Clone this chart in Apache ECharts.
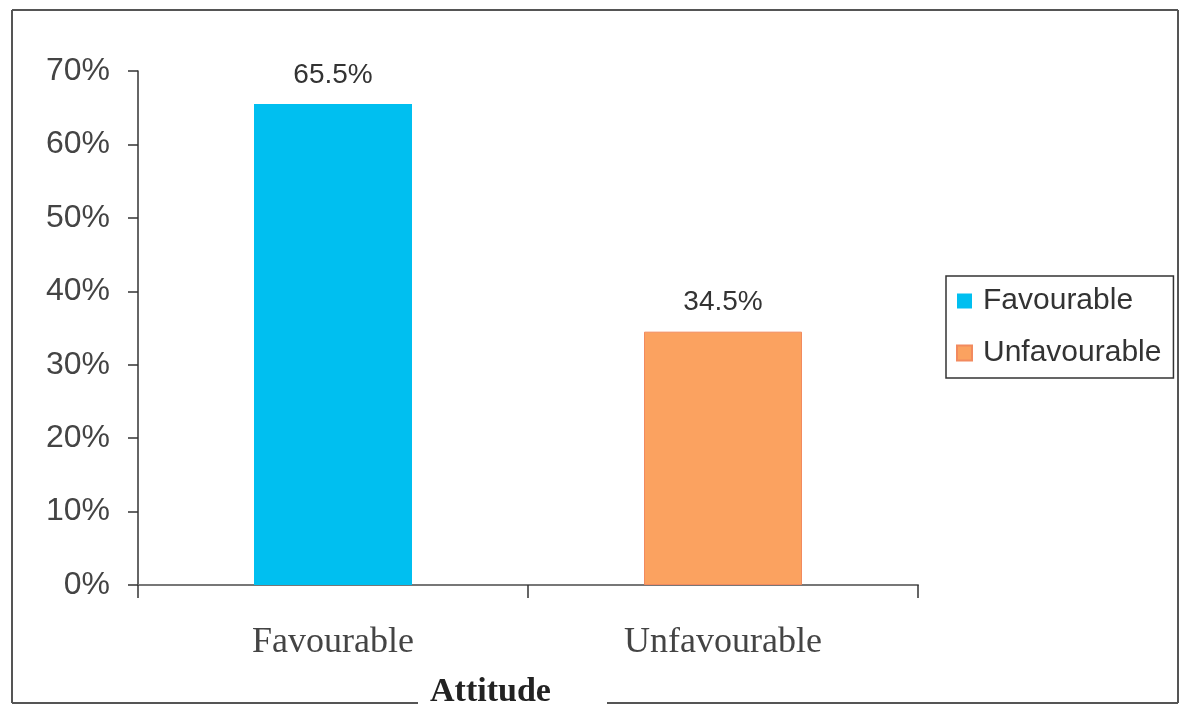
<!DOCTYPE html>
<html>
<head>
<meta charset="utf-8">
<title>Attitude</title>
<script src="https://cdn.jsdelivr.net/npm/echarts@6/dist/echarts.min.js"></script>
<style>
  html, body { margin: 0; padding: 0; background: #fff; }
  #chart { width: 1181px; height: 709px; }
</style>
</head>
<body>
<div id="chart"></div>
<script>
// 数据
const categories = ['Favourable', 'Unfavourable'];
const favourable = [65.5, '-'];
const unfavourable = ['-', 34.5];
const yTicks = [0, 10, 20, 30, 40, 50, 60, 70];

const chart = echarts.init(document.getElementById('chart'));

// 外框（底边在标题处断开）
const frameStyle = { stroke: '#555', lineWidth: 2 };
const frame = [
    [12, 10, 1178, 10],
    [12, 10, 12, 703],
    [1178, 10, 1178, 703],
    [12, 703, 418, 703],
    [607, 703, 1178, 703]
].map(function (s) {
    return { type: 'line', shape: { x1: s[0], y1: s[1], x2: s[2], y2: s[3] }, style: frameStyle, silent: true };
});

const option = {
    backgroundColor: '#fff',
    animation: false,
    title: {
        text: 'Attitude',
        left: 430,
        top: 675,
        padding: 0,
        textStyle: {
            fontFamily: 'Liberation Serif',
            fontWeight: 'bold',
            fontSize: 34,
            color: '#222'
        }
    },
    legend: {
        orient: 'vertical',
        left: 946,
        top: 276,
        padding: [10, 12, 10, 10],
        itemGap: 22,
        itemWidth: 15,
        itemHeight: 15,
        icon: 'rect',
        borderColor: '#333',
        borderWidth: 1.5,
        backgroundColor: '#fff',
        textStyle: {
            fontFamily: 'Liberation Sans',
            fontSize: 30,
            color: '#333',
            padding: [0, 0, 0, 6]
        },
        data: categories
    },
    grid: {
        left: 138,
        right: 263,
        top: 71,
        bottom: 124,
        containLabel: false
    },
    xAxis: {
        type: 'category',
        data: categories,
        axisLine: { lineStyle: { color: '#777', width: 2 } },
        axisTick: { show: true, length: 13, lineStyle: { color: '#333', width: 1.5 } },
        axisLabel: {
            fontFamily: 'Liberation Serif',
            fontSize: 36,
            color: '#444',
            margin: 40
        }
    },
    yAxis: {
        type: 'value',
        min: yTicks[0],
        max: yTicks[yTicks.length - 1],
        interval: 10,
        axisLine: { show: true, lineStyle: { color: '#333', width: 1.5 } },
        axisTick: { show: true, length: 10, lineStyle: { color: '#333', width: 1.5 } },
        splitLine: { show: false },
        axisLabel: {
            fontFamily: 'Liberation Sans',
            fontSize: 32,
            color: '#444',
            margin: 28,
            formatter: '{value}%'
        }
    },
    series: [
        {
            name: 'Favourable',
            type: 'bar',
            barWidth: 158,
            barGap: '-100%',
            data: favourable,
            itemStyle: { color: '#00BFF0' },
            label: {
                show: true,
                position: 'top',
                distance: 15,
                fontFamily: 'Liberation Sans',
                fontSize: 28,
                color: '#333',
                formatter: '{c}%'
            }
        },
        {
            name: 'Unfavourable',
            type: 'bar',
            barWidth: 158,
            barGap: '-100%',
            data: unfavourable,
            itemStyle: { color: '#FBA260', borderColor: '#F28A5E', borderWidth: 1 },
            label: {
                show: true,
                position: 'top',
                distance: 15,
                fontFamily: 'Liberation Sans',
                fontSize: 28,
                color: '#333',
                formatter: '{c}%'
            }
        }
    ],
    graphic: frame
};

chart.setOption(option);
</script>
</body>
</html>
